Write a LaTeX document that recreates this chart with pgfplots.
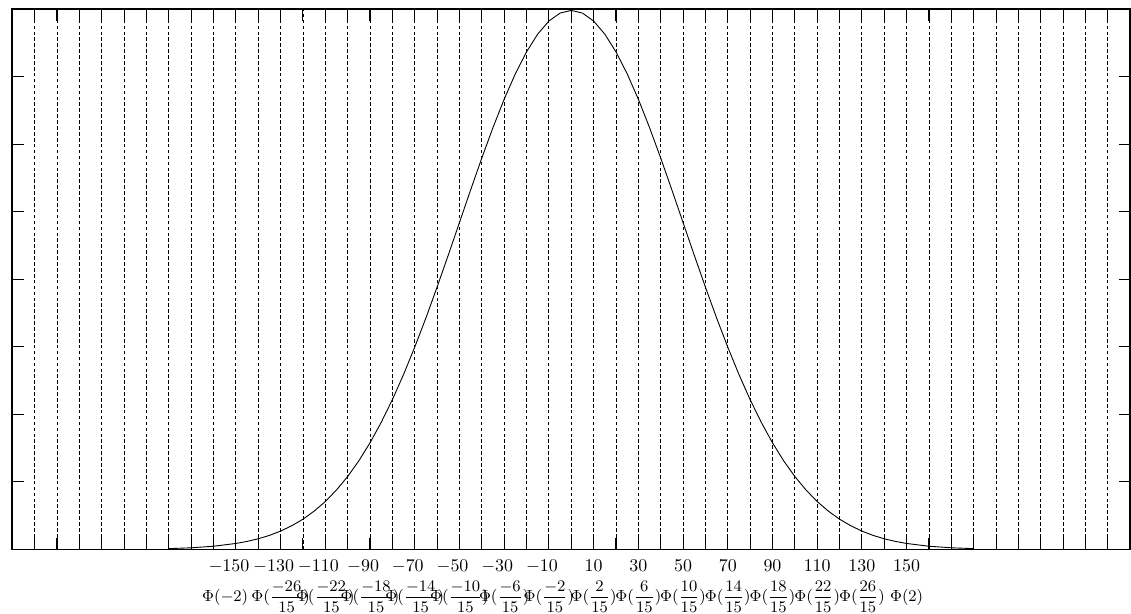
\documentclass[border=0pt]{standalone}
\usepackage{amsmath}
\usepackage{pgfplots}
\pgfplotsset{compat=1.18}

% density (x, height)
\pgfplotstableread{
x y
-180 0.0000122
-170 0.0000246
-160 0.0000477
-150 0.0000887
-145 0.000119
-140 0.000158
-135 0.000208
-130 0.000272
-125 0.000351
-120 0.000448
-115 0.000567
-110 0.000709
-105 0.000880
-100 0.001080
-95 0.001312
-90 0.001579
-85 0.001881
-80 0.002218
-75 0.002590
-70 0.002995
-65 0.003427
-60 0.003884
-55 0.004357
-50 0.004839
-45 0.005322
-40 0.005794
-35 0.006245
-30 0.006665
-25 0.007041
-20 0.007365
-15 0.007628
-10 0.007821
-5 0.007939
0 0.007979
5 0.007939
10 0.007821
15 0.007628
20 0.007365
25 0.007041
30 0.006665
35 0.006245
40 0.005794
45 0.005322
50 0.004839
55 0.004357
60 0.003884
65 0.003427
70 0.002995
75 0.002590
80 0.002218
85 0.001881
90 0.001579
95 0.001312
100 0.001080
105 0.000880
110 0.000709
115 0.000567
120 0.000448
125 0.000351
130 0.000272
135 0.000208
140 0.000158
145 0.000119
150 0.0000887
160 0.0000477
170 0.0000246
180 0.0000122
}\curve

% two-row tick label: number on top, Phi(...) 16.6pt lower
\newcommand{\lab}[2]{%
  \makebox[0pt][c]{#1}%
  \makebox[0pt][c]{\raisebox{-16.6pt}[0pt][0pt]{\fontsize{9}{11}\selectfont$#2$}}}

\begin{document}
\begin{tikzpicture}
\begin{axis}[
    scale only axis,
    width=624pt,
    height=301.7pt,
    xmin=-250, xmax=250,
    ymin=0, ymax=0.008,
    scaled y ticks=false,
    axis line style={line width=0.9pt},
    xtick={-240,-230,...,240},
    xticklabels={},
    ytick={0,0.001,0.002,0.003,0.004,0.005,0.006,0.007,0.008},
    yticklabels={},
    tick align=inside,
    xtick pos=both, ytick pos=both,
    major tick length=6.5pt,
    tick style={black, line width=0.6pt},
    xmajorgrids,
    major grid style={black, line width=0.5pt, dash pattern=on 2pt off 1.3pt},
    extra x ticks={-150,-130,-110,-90,-70,-50,-30,-10,10,30,50,70,90,110,130,150},
    extra x tick style={grid=none, major tick length=0pt,
        xticklabel style={yshift=-4.9pt, inner sep=1pt}},
    extra x tick labels={
        {\lab{\llap{$-$}$150$}{\Phi(-2)\kern12pt}},
        {\lab{\llap{$-$}$130$}{\Phi(\dfrac{-26}{15})}},
        {\lab{\llap{$-$}$110$}{\Phi(\dfrac{-22}{15})}},
        {\lab{\llap{$-$}$90$}{\Phi(\dfrac{-18}{15})}},
        {\lab{\llap{$-$}$70$}{\Phi(\dfrac{-14}{15})}},
        {\lab{\llap{$-$}$50$}{\Phi(\dfrac{-10}{15})}},
        {\lab{\llap{$-$}$30$}{\Phi(\dfrac{-6}{15})}},
        {\lab{\llap{$-$}$10$}{\Phi(\dfrac{-2}{15})}},
        {\lab{$10$}{\Phi(\dfrac{2}{15})}},
        {\lab{$30$}{\Phi(\dfrac{6}{15})}},
        {\lab{$50$}{\Phi(\dfrac{10}{15})}},
        {\lab{$70$}{\Phi(\dfrac{14}{15})}},
        {\lab{$90$}{\Phi(\dfrac{18}{15})}},
        {\lab{$110$}{\Phi(\dfrac{22}{15})}},
        {\lab{$130$}{\Phi(\dfrac{26}{15})}},
        {\lab{$150$}{\Phi(2)}}
    },
]
\addplot[black, line width=0.5pt] table[x=x, y=y] {\curve};
\end{axis}
\path ([xshift=-3.7pt, yshift=5pt]current axis.north west)
      ([yshift=-35.6pt]current axis.south east);
\end{tikzpicture}
\end{document}
